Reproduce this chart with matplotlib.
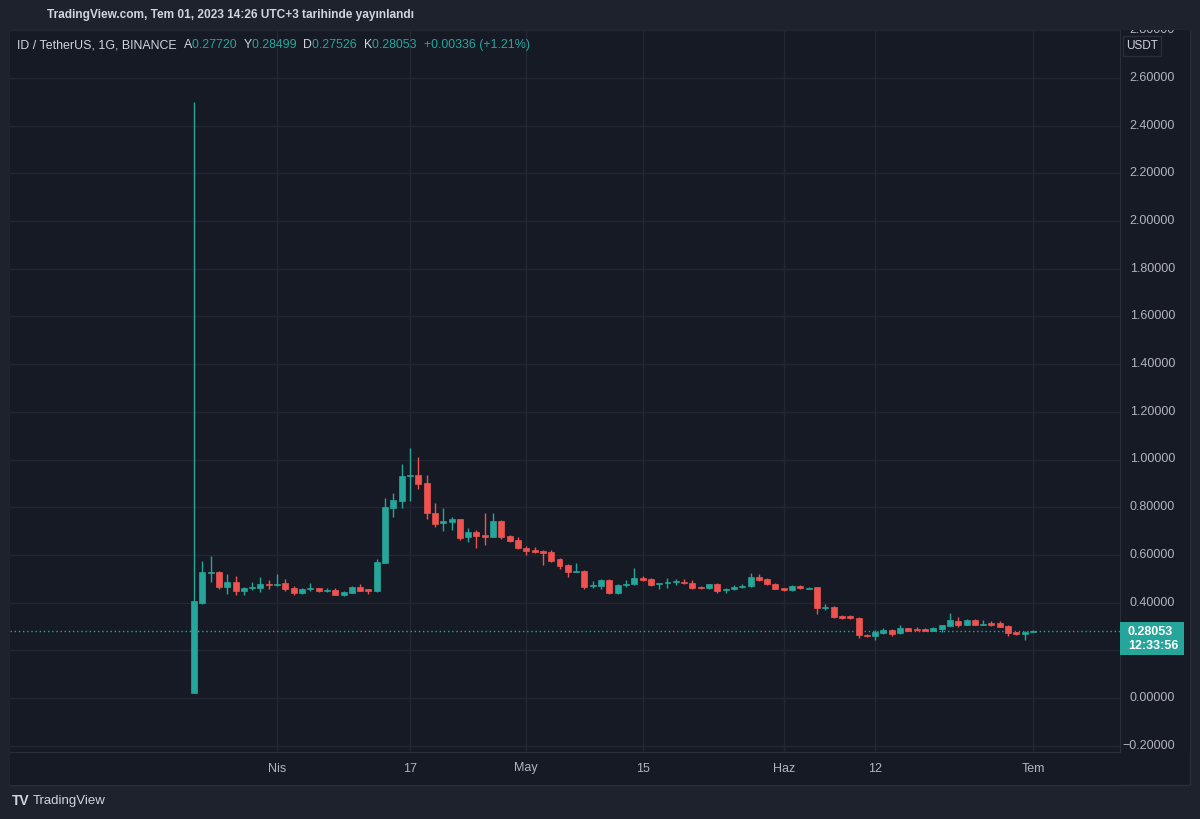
import matplotlib
matplotlib.use("Agg")
import matplotlib.pyplot as plt
import matplotlib.dates as mdates
from matplotlib import font_manager
from matplotlib.patches import Rectangle
import pandas as pd
import numpy as np

# ---------------- data ----------------
start_date = "2023-03-22"
opens = [0.020, 0.400, 0.525, 0.530, 0.467, 0.488, 0.449, 0.461, 0.463, 0.478,
         0.475, 0.484, 0.463, 0.440, 0.456, 0.460, 0.447, 0.451, 0.432, 0.442,
         0.467, 0.455, 0.447, 0.567, 0.798, 0.827, 0.930, 0.935, 0.903, 0.777,
         0.732, 0.740, 0.749, 0.674, 0.696, 0.683, 0.676, 0.742, 0.679, 0.662,
         0.631, 0.620, 0.617, 0.612, 0.584, 0.556, 0.530, 0.534, 0.470, 0.471,
         0.495, 0.440, 0.474, 0.477, 0.502, 0.499, 0.477, 0.482, 0.485, 0.488,
         0.481, 0.467, 0.460, 0.477, 0.453, 0.455, 0.464, 0.468, 0.509, 0.499,
         0.479, 0.460, 0.453, 0.470, 0.458, 0.464, 0.378, 0.383, 0.345, 0.342,
         0.337, 0.264, 0.258, 0.271, 0.285, 0.271, 0.292, 0.288, 0.289, 0.281,
         0.288, 0.302, 0.324, 0.306, 0.327, 0.308, 0.316, 0.313, 0.302, 0.275,
         0.270, 0.2772]
highs = [2.500, 0.575, 0.597, 0.532, 0.520, 0.510, 0.467, 0.485, 0.507, 0.494,
         0.519, 0.497, 0.468, 0.460, 0.484, 0.462, 0.462, 0.460, 0.447, 0.470,
         0.478, 0.457, 0.583, 0.837, 0.858, 0.980, 1.050, 1.010, 0.935, 0.816,
         0.795, 0.757, 0.752, 0.712, 0.705, 0.775, 0.777, 0.745, 0.682, 0.676,
         0.637, 0.635, 0.620, 0.620, 0.589, 0.560, 0.565, 0.537, 0.490, 0.500,
         0.500, 0.478, 0.495, 0.544, 0.510, 0.503, 0.484, 0.505, 0.499, 0.498,
         0.495, 0.470, 0.479, 0.484, 0.460, 0.475, 0.477, 0.523, 0.520, 0.503,
         0.482, 0.462, 0.475, 0.473, 0.465, 0.466, 0.396, 0.385, 0.350, 0.347,
         0.340, 0.267, 0.286, 0.292, 0.288, 0.306, 0.295, 0.297, 0.292, 0.296,
         0.308, 0.358, 0.341, 0.333, 0.330, 0.327, 0.323, 0.323, 0.305, 0.277,
         0.283, 0.28499]
lows = [0.020, 0.395, 0.487, 0.455, 0.437, 0.430, 0.433, 0.452, 0.443, 0.458,
        0.470, 0.448, 0.433, 0.437, 0.450, 0.445, 0.444, 0.430, 0.428, 0.440,
        0.447, 0.437, 0.445, 0.565, 0.757, 0.798, 0.826, 0.875, 0.749, 0.718,
        0.702, 0.705, 0.663, 0.653, 0.630, 0.641, 0.674, 0.668, 0.655, 0.626,
        0.600, 0.607, 0.559, 0.572, 0.542, 0.508, 0.527, 0.459, 0.460, 0.457,
        0.434, 0.435, 0.465, 0.472, 0.490, 0.468, 0.455, 0.463, 0.474, 0.478,
        0.458, 0.457, 0.457, 0.440, 0.440, 0.452, 0.460, 0.466, 0.490, 0.474,
        0.455, 0.450, 0.450, 0.458, 0.455, 0.352, 0.368, 0.337, 0.333, 0.333,
        0.250, 0.255, 0.243, 0.268, 0.262, 0.269, 0.280, 0.282, 0.279, 0.279,
        0.278, 0.300, 0.299, 0.304, 0.304, 0.305, 0.303, 0.296, 0.262, 0.265,
        0.243, 0.27526]
closes = [0.405, 0.527, 0.530, 0.467, 0.487, 0.447, 0.462, 0.465, 0.478, 0.475,
          0.480, 0.458, 0.440, 0.457, 0.460, 0.447, 0.450, 0.432, 0.445, 0.467,
          0.450, 0.450, 0.572, 0.802, 0.830, 0.930, 0.935, 0.897, 0.774, 0.730,
          0.742, 0.749, 0.672, 0.695, 0.680, 0.677, 0.742, 0.676, 0.658, 0.629,
          0.616, 0.613, 0.610, 0.576, 0.553, 0.530, 0.533, 0.467, 0.474, 0.495,
          0.440, 0.474, 0.478, 0.502, 0.496, 0.472, 0.481, 0.486, 0.488, 0.481,
          0.463, 0.460, 0.477, 0.450, 0.457, 0.464, 0.471, 0.509, 0.496, 0.477,
          0.458, 0.454, 0.471, 0.461, 0.461, 0.376, 0.383, 0.341, 0.337, 0.337,
          0.264, 0.258, 0.278, 0.285, 0.270, 0.292, 0.282, 0.285, 0.281, 0.294,
          0.306, 0.327, 0.306, 0.327, 0.306, 0.311, 0.306, 0.299, 0.271, 0.268,
          0.277, 0.28053]

price_ticks = [-0.2, 0.0, 0.2, 0.4, 0.6, 0.8, 1.0, 1.2, 1.4, 1.6, 1.8, 2.0, 2.2, 2.4, 2.6, 2.8]
time_tick_dates = ["2023-04-01", "2023-04-17", "2023-05-01", "2023-05-15",
                   "2023-06-01", "2023-06-12", "2023-07-01"]
time_tick_labels = ["Nis", "17", "May", "15", "Haz", "12", "Tem"]

header_text = "TradingView.com, Tem 01, 2023 14:26 UTC+3 tarihinde yayınlandı"
symbol_text = "ID / TetherUS, 1G, BINANCE"
last_price = 0.28053
countdown = "12:33:56"
change_text = "+0.00336 (+1.21%)"

# ---------------- style ----------------
UP = "#26a69a"
DOWN = "#ef5350"
OUTER_BG = "#1e222d"
PANE_BG = "#161a25"
GRID = "#232733"
BORDER = "#2a2e39"
TXT = "#b2b5be"
HEAD = "#d1d4dc"

avail = {f.name for f in font_manager.fontManager.ttflist}
narrow = "Liberation Sans Narrow" if "Liberation Sans Narrow" in avail else "Liberation Sans"
plt.rcParams["font.family"] = [narrow, "DejaVu Sans"]

W, H = 1200, 819
fig = plt.figure(figsize=(W / 100, H / 100), dpi=100, facecolor=OUTER_BG)


def fx(px):
    return px / W


def fy(py):
    return 1 - py / H


# pane background (behind axes)
fig.patches.append(Rectangle((fx(10), fy(785)), fx(1180), 755 / H, transform=fig.transFigure,
                             facecolor=PANE_BG, edgecolor=BORDER, lw=1, zorder=-5))

x0, x1, y0, y1 = 10, 1120, 30, 752
ax = fig.add_axes([fx(x0), fy(y1), fx(x1 - x0), (y1 - y0) / H])
ax.set_facecolor(PANE_BG)
ax.set_zorder(1)

dates = pd.date_range(start_date, periods=len(opens), freq="D")
xd = mdates.date2num(dates.to_pydatetime())
o = np.array(opens); h = np.array(highs); l = np.array(lows); c = np.array(closes)
up = c >= o
cols = np.where(up, UP, DOWN)

ax.vlines(xd, l, h, colors=cols, lw=1.0, zorder=3)
body_bottom = np.minimum(o, c)
body_h = np.maximum(np.abs(c - o), 0.004)
ax.bar(xd, body_h, bottom=body_bottom, width=0.72, color=cols, edgecolor=cols, lw=0.5, zorder=4)

px_per_day = 8.307
xmin = xd[0] - (194 - x0) / px_per_day
xmax = xmin + (x1 - x0) / px_per_day
ax.set_xlim(xmin, xmax)
ppu = 238.5
ax.set_ylim((698 - y1) / ppu, (698 - y0) / ppu)

tick_x = mdates.date2num(pd.to_datetime(time_tick_dates).to_pydatetime())
for t in tick_x:
    ax.axvline(t, color=GRID, lw=1, zorder=1)
for p in price_ticks:
    ax.axhline(p, color=GRID, lw=1, zorder=1)

ax.axhline(last_price, color=UP, lw=1, ls=(0, (1, 2)), zorder=2)

ax.set_xticks([]); ax.set_yticks([])
for s in ax.spines.values():
    s.set_visible(False)

# price axis
pax = fig.add_axes([fx(1120), fy(y1), fx(70), (y1 - y0) / H])
pax.set_facecolor(PANE_BG)
pax.set_zorder(1)
pax.set_xlim(0, 70)
pax.set_ylim(ax.get_ylim())
pax.set_xticks([]); pax.set_yticks([])
for s in pax.spines.values():
    s.set_visible(False)
pax.spines["left"].set_visible(True)
pax.spines["left"].set_color(BORDER)
for p in price_ticks:
    if abs(p - last_price) < 0.09:
        continue  # hidden behind the last-price label, as in the original
    lab = f"{p:.5f}".replace("-", "\u2212")
    pax.text(55, p, lab, color=TXT, fontsize=9, ha="right", va="center", clip_on=True)

# time axis
tax = fig.add_axes([fx(x0), fy(785), fx(x1 - x0), 33 / H])
tax.set_facecolor(PANE_BG)
tax.set_zorder(1)
tax.set_xlim(ax.get_xlim()); tax.set_ylim(0, 1)
tax.set_xticks([]); tax.set_yticks([])
for s in tax.spines.values():
    s.set_visible(False)
tax.spines["top"].set_visible(True)
tax.spines["top"].set_color(BORDER)
for t, lab in zip(tick_x, time_tick_labels):
    tax.text(t, 0.5, lab, color=TXT, fontsize=9, ha="center", va="center")

# last price label
fig.patches.append(Rectangle((fx(1120), fy(655)), fx(64), 33 / H, transform=fig.transFigure,
                             facecolor=UP, edgecolor="none", zorder=5))
fig.text(fx(1128), fy(639), f"{last_price:.5f}\n{countdown}", color="white", fontsize=9,
         va="center", ha="left", fontweight="bold", linespacing=1.15, zorder=6)

# USDT box
fig.patches.append(Rectangle((fx(1123), fy(56)), fx(38), 20 / H, transform=fig.transFigure,
                             facecolor=PANE_BG, edgecolor=BORDER, lw=1, zorder=5))
fig.text(fx(1142), fy(46), "USDT", color=HEAD, fontsize=8.5, ha="center", va="center", zorder=6)

# header
fig.text(fx(47), fy(15), header_text, color=HEAD, fontsize=8.6, ha="left", va="center",
         fontweight="bold", zorder=6)

# legend line (chained texts)
renderer = fig.canvas.get_renderer()
parts = [(symbol_text + "  ", HEAD), ("A", HEAD), (f"{opens[-1]:.5f}  ", UP),
         ("Y", HEAD), (f"{highs[-1]:.5f}  ", UP), ("D", HEAD), (f"{lows[-1]:.5f}  ", UP),
         ("K", HEAD), (f"{closes[-1]:.5f}  ", UP), (change_text, UP)]
cx = 17
for txt, col in parts:
    t = fig.text(fx(cx), fy(45), txt, color=col, fontsize=8.9, ha="left", va="center", zorder=6)
    bb = t.get_window_extent(renderer)
    cx = bb.x1

# footer logo
fig.text(fx(12), fy(801), "TV", color=HEAD, fontsize=10, fontweight="bold", ha="left", va="center")
fig.text(fx(33), fy(801), "TradingView", color=HEAD, fontsize=9.5, ha="left", va="center")

fig.savefig("out.png", dpi=100, facecolor=OUTER_BG)
